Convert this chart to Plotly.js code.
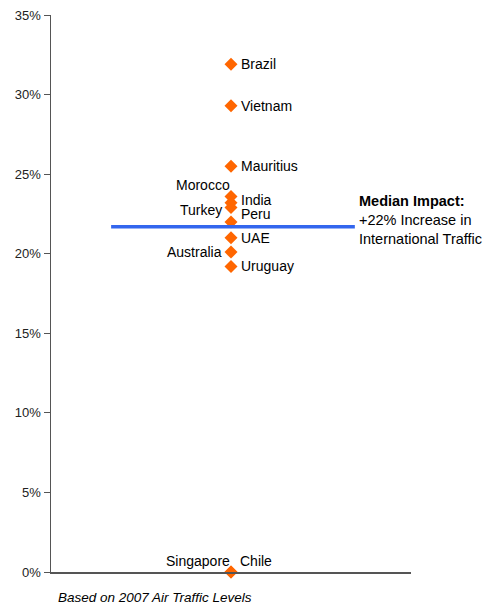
<!DOCTYPE html>
<html><head><meta charset="utf-8">
<script src="https://cdn.plot.ly/plotly-3.0.1.min.js"></script>
<style>html,body{margin:0;padding:0;background:#fff}#chart{width:496px;height:607px}</style>
</head><body><div id="chart"></div>
<script>
// Data
const countries = ["Brazil","Vietnam","Mauritius","Morocco","India","Turkey","Peru","UAE","Australia","Uruguay","Singapore","Chile"];
const impact = [31.9, 29.3, 25.5, 23.6, 23.2, 22.9, 22.0, 21.0, 20.1, 19.2, 0, 0];
const medianImpact = 21.7;
const yTicks = [0,5,10,15,20,25,30,35];
const yTickText = ["0%","5%","10%","15%","20%","25%","30%","35%"];

// Label placement (style only)
const labelPlace = {
  "Brazil":{side:"right",dy:0},
  "Vietnam":{side:"right",dy:0},
  "Mauritius":{side:"right",dy:0},
  "Morocco":{side:"left",dy:11,dx:7},
  "India":{side:"right",dy:3},
  "Turkey":{side:"left",dy:-2,dx:-1},
  "Peru":{side:"right",dy:8},
  "UAE":{side:"right",dy:0},
  "Australia":{side:"left",dy:0,dx:-1},
  "Uruguay":{side:"right",dy:0},
  "Singapore":{side:"left",dy:11,dx:7},
  "Chile":{side:"right",dy:11,dx:-1}
};

const font = {family:"Liberation Sans, Arial, sans-serif", size:14, color:"#000"};
const xs = countries.map(()=>1);

const annotations = countries.map((c,i)=>{
  const p = labelPlace[c];
  const right = p.side==="right";
  return {x:1, y:impact[i], xref:"x", yref:"y", text:c, showarrow:false,
    xanchor: right?"left":"right", yanchor:"middle",
    xshift: right?(8+(p.dx||0)):(-6+(p.dx||0)), yshift:p.dy, font:font};
});
annotations.push({x:1.69, y:medianImpact, xref:"x", yref:"y", showarrow:false,
  xanchor:"left", yanchor:"middle", align:"left", xshift:2, yshift:7,
  text:"<b>Median Impact:</b><br>+22% Increase in<br>International Traffic",
  font:{family:font.family,size:14.5,color:"#000"}});
annotations.push({xref:"paper", yref:"paper", x:0.015, y:-0.035, xanchor:"left", yanchor:"top",
  showarrow:false, yshift:3, text:"<i>Based on 2007 Air Traffic Levels</i>",
  font:{family:font.family,size:13.5,color:"#000"}});

const data = [{
  type:"scatter", mode:"markers", x:xs, y:impact, text:countries, hoverinfo:"text",
  marker:{symbol:"diamond", size:10, color:"#ff6600"}, cliponaxis:false
}];

const layout = {
  width:496, height:607,
  margin:{l:51, r:85, t:15, b:35},
  paper_bgcolor:"#fff", plot_bgcolor:"#fff",
  showlegend:false,
  xaxis:{range:[0,2], showgrid:false, zeroline:false, showticklabels:false, ticks:"",
    showline:true, linecolor:"#555", linewidth:1.5, fixedrange:true},
  yaxis:{range:[0,35], tickvals:yTicks, ticktext:yTickText, showgrid:false, zeroline:false,
    showline:true, linecolor:"#555", linewidth:1.5, ticks:"outside", ticklen:6, tickcolor:"#555",
    tickfont:{family:font.family,size:13,color:"#222"}, fixedrange:true},
  shapes:[{type:"line", xref:"x", yref:"y", x0:0.334, x1:1.688, y0:medianImpact, y1:medianImpact,
    line:{color:"#3366ee", width:3.5}, layer:"above"}],
  annotations:annotations
};
Plotly.newPlot("chart", data, layout, {displayModeBar:false, staticPlot:true});
</script></body></html>
